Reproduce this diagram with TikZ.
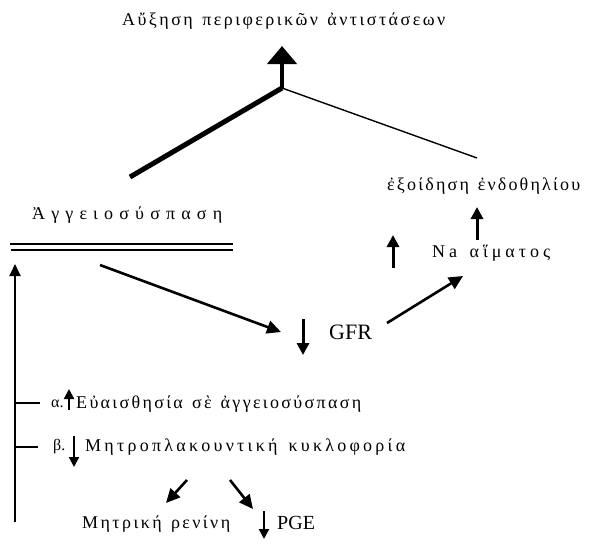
\documentclass[tikz,border=0pt]{standalone}
\usepackage{fontspec}
\setmainfont{Liberation Serif}
\usetikzlibrary{arrows.meta}
\makeatletter
\newcommand\spreadto[2]{\hbox to #1{\@tfor\@ch:=#2\do{\@ch\hfil}\unskip}}
\makeatother
\tikzset{
  gr/.style={inner sep=0pt, anchor=west, font=\fontsize{18}{21}\selectfont},
  lat/.style={inner sep=0pt, anchor=west, font=\fontsize{22}{25}\selectfont},
  conn/.style={line width=2.6pt, -{Triangle[length=14pt,width=13pt]}},
  updown/.style={line width=3pt, -{Triangle[length=12pt,width=12pt]}},
  small/.style={line width=2.2pt, -{Triangle[length=10pt,width=10pt]}},
  bigup/.style={line width=4.5pt, -{Triangle[length=18pt,width=29pt]}},
}
\begin{document}
\begin{tikzpicture}[x=1pt,y=-1pt]
\useasboundingbox (0,0) rectangle (589,547);
% texts
\node[gr] (top) at (122,21) {\spreadto{323pt}{Αὔξηση~περιφερικῶν~ἀντιστάσεων}};
\node[gr] (exo) at (387,186) {\spreadto{193pt}{ἐξοίδηση~ἐνδοθηλίου}};
\node[gr] (na) at (432,253) {\spreadto{118pt}{Na~αἵματος}};
\node[gr] (aggeio) at (32,215) {\spreadto{190pt}{Ἀγγειοσύσπαση}};
\node[lat] (gfr) at (329,332) {GFR};
\node[gr, font=\fontsize{16}{19}\selectfont] (alab) at (51,404) {α.};
\node[gr] (alpha) at (76,404) {\spreadto{285pt}{Εὐαισθησία~σὲ~ἀγγειοσύσπαση}};
\node[gr, font=\fontsize{16}{19}\selectfont] (blab) at (53,447) {β.};
\node[gr] (beta) at (85,447) {\spreadto{320pt}{Μητροπλακουντική~κυκλοφορία}};
\node[gr] (renin) at (82,524) {\spreadto{148pt}{Μητρική~ρενίνη}};
\node[lat, font=\fontsize{20}{23}\selectfont] (pge) at (277,523) {PGE};
% coordinates
\coordinate (apex) at (282,88);
\coordinate (topar) at (282,46);
\coordinate (lend) at (130,177);
\coordinate (rend) at (477,158);
\coordinate (g1) at (100,265);
\coordinate (g2) at (281,332);
\coordinate (n1) at (387,323);
\coordinate (n2) at (463,276);
\coordinate (vb) at (15,522);
\coordinate (vt) at (15,264);
\coordinate (ta) at (40,403);
\coordinate (tb) at (38,447);
\coordinate (b1) at (187,480);
\coordinate (b2) at (166,503);
\coordinate (b3) at (230,480);
\coordinate (b4) at (253,509);
% top structure
\draw[line width=5pt] (lend) -- (apex);
\draw[line width=1.4pt] (apex) -- (rend);
\draw[bigup] (apex) -- (topar);
% double line
\draw[line width=1.6pt] (10,244) -- (233,244);
\draw[line width=1.6pt] (11,250) -- (233,250);
% connectors
\draw[conn] (g1) -- (g2);
\draw[conn] (n1) -- (n2);
\draw[line width=1.8pt, -{Triangle[length=12pt,width=11pt]}] (vb) -- (vt);
\draw[line width=1.8pt] (vt |- ta) -- (ta);
\draw[line width=1.8pt] (vt |- tb) -- (tb);
\draw[conn] (b1) -- (b2);
\draw[conn] (b3) -- (b4);
% up/down markers
\draw[updown] (393,268) -- (393,235);
\draw[updown] (477,240) -- (477,207);
\draw[updown] (303,319) -- (303,355);
\draw[small] (69,410) -- (69,389);
\draw[small] (74,436) -- (74,467);
\draw[small] (264,511) -- (264,539);
\end{tikzpicture}
\end{document}
